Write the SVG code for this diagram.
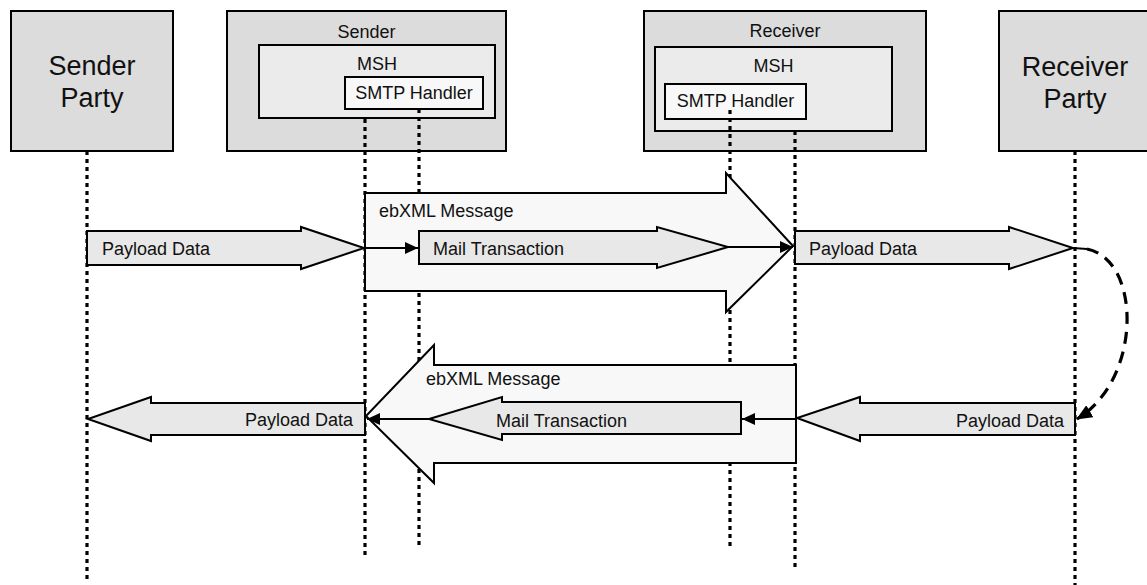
<svg xmlns="http://www.w3.org/2000/svg" width="1147" height="585" viewBox="0 0 1147 585">
<style>
  text { font-family: "Liberation Sans", Arial, sans-serif; fill: #111; }
  .big { font-size: 27px; text-anchor: middle; }
  .lbl { font-size: 18px; }
  .mid { text-anchor: middle; }
  .end { text-anchor: end; }
  .outer { fill: #dcdcdc; stroke: #000; stroke-width: 2; }
  .msh { fill: #ebebeb; stroke: #000; stroke-width: 2; }
  .smtp { fill: #f8f8f8; stroke: #000; stroke-width: 2; }
  .life { fill: none; stroke: #000; stroke-width: 3.2; stroke-dasharray: 4 4; }
  .blk { fill: #e8e8e8; stroke: #000; stroke-width: 2; stroke-linejoin: miter; }
  .env { fill: #f8f8f8; stroke: #000; stroke-width: 2; stroke-linejoin: miter; }
  .conn { fill: none; stroke: #000; stroke-width: 2; }
  .dash { fill: none; stroke: #000; stroke-width: 3.2; stroke-dasharray: 12 8; }
</style>
<defs>
  <marker id="ah" viewBox="0 0 13 12" refX="13" refY="6" markerWidth="13" markerHeight="12" markerUnits="userSpaceOnUse" orient="auto">
    <path d="M0,0 L13,6 L0,12 z" fill="#000"/>
  </marker>
  <marker id="ahBig" viewBox="0 0 16 14" refX="15" refY="7" markerWidth="16" markerHeight="14" markerUnits="userSpaceOnUse" orient="auto">
    <path d="M0,0 L16,7 L0,14 z" fill="#000"/>
  </marker>
</defs>
<rect width="1147" height="585" fill="#fff"/>

<g id="sender-party">
  <rect class="outer" x="11" y="11" width="162" height="140"/>
  <text class="big" x="92" y="75">Sender</text>
  <text class="big" x="92" y="107">Party</text>
</g>
<g id="sender">
  <rect class="outer" x="227" y="11" width="279" height="140"/>
  <text class="lbl mid" x="366.5" y="38">Sender</text>
</g>
<g id="sender-msh">
  <rect class="msh" x="259" y="45" width="236" height="73"/>
  <text class="lbl mid" x="377" y="70">MSH</text>
</g>
<g id="sender-smtp">
  <rect class="smtp" x="345" y="77" width="138" height="32"/>
  <text class="lbl mid" x="414" y="99">SMTP Handler</text>
</g>
<g id="receiver">
  <rect class="outer" x="644" y="11" width="282" height="140"/>
  <text class="lbl mid" x="785" y="37">Receiver</text>
</g>
<g id="receiver-msh">
  <rect class="msh" x="655" y="47" width="237" height="84"/>
  <text class="lbl mid" x="773.5" y="72">MSH</text>
</g>
<g id="receiver-smtp">
  <rect class="smtp" x="665" y="84" width="141" height="35"/>
  <text class="lbl mid" x="735.5" y="107">SMTP Handler</text>
</g>
<g id="receiver-party">
  <rect class="outer" x="999" y="11" width="160" height="140"/>
  <text class="big" x="1075" y="76">Receiver</text>
  <text class="big" x="1075" y="108">Party</text>
</g>

<g id="connectors">
  <path class="life" d="M87,151 V582"/>
  <path class="life" d="M365,119 V557"/>
  <path class="life" d="M419,109 V547"/>
  <path class="life" d="M730,110 V547"/>
  <path class="life" d="M795,131 V567"/>
  <path class="life" d="M1075,151 V585"/>
</g>

<g id="msg-payload-1">
  <polygon class="blk" points="87,231 301,231 301,227 364,248 301,269 301,265 87,265"/>
  <text class="lbl" x="102" y="255">Payload Data</text>
</g>
<g id="msg-ebxml-1">
  <polygon class="env" points="365,193 726,193 726,173 793,246 726,312 726,291 365,291"/>
  <text class="lbl" x="379" y="217">ebXML Message</text>
</g>
<g id="msg-mail-1">
  <polygon class="blk" points="419,231 657,231 657,227 728,247 657,268 657,264 419,264"/>
  <text class="lbl" x="433" y="255">Mail Transaction</text>
</g>
<g id="msg-payload-2">
  <polygon class="blk" points="795,231 1009,231 1009,227 1073,248 1009,269 1009,264 795,264"/>
  <text class="lbl" x="809" y="255">Payload Data</text>
</g>
<g id="msg-payload-3">
  <polygon class="blk" points="1075,403 860,403 860,397 797,418 860,441 860,435 1075,435"/>
  <text class="lbl end" x="1064" y="427">Payload Data</text>
</g>
<g id="msg-ebxml-2">
  <polygon class="env" points="796,365 434,365 434,345 366,416 434,483 434,463 796,463"/>
  <text class="lbl" x="426" y="385">ebXML Message</text>
</g>
<g id="msg-mail-2">
  <polygon class="blk" points="741,402 502,402 502,397 429,419 502,440 502,434 741,434"/>
  <text class="lbl" x="496" y="427">Mail Transaction</text>
</g>
<g id="msg-payload-4">
  <polygon class="blk" points="365,403 151,403 151,397 88,419 151,441 151,435 365,435"/>
  <text class="lbl end" x="353" y="426">Payload Data</text>
</g>

<g id="links">
  <line class="conn" x1="365" y1="248" x2="418" y2="248" marker-end="url(#ah)"/>
  <line class="conn" x1="728" y1="247" x2="793" y2="247" marker-end="url(#ah)"/>
  <line class="conn" x1="795" y1="419" x2="742" y2="419" marker-end="url(#ah)"/>
  <line class="conn" x1="429" y1="419" x2="367" y2="419" marker-end="url(#ah)"/>
  <path class="conn" d="M1073,248 L1087,249" stroke-width="3"/>
  <path class="dash" d="M1087,249 C1142,260 1142,380 1077,419" marker-end="url(#ahBig)"/>
</g>
</svg>
